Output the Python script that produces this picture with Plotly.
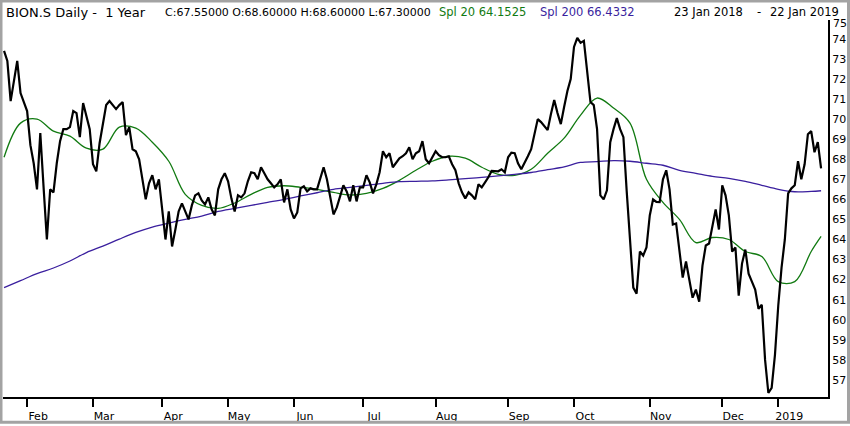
import pandas as pd
import plotly.graph_objects as go

# trading calendar 23 Jan 2018 - 22 Jan 2019 (weekdays minus exchange holidays)
holidays = ['2018-03-30', '2018-04-02', '2018-05-01', '2018-05-10', '2018-05-21', '2018-08-01',
            '2018-12-24', '2018-12-25', '2018-12-26', '2018-12-31', '2019-01-01', '2019-01-02']
days = pd.bdate_range('2018-01-23', '2019-01-22')
days = days[~days.isin(pd.to_datetime(holidays))]
dates = [d.strftime('%Y-%m-%d') for d in days]

# daily close
close = [73.4, 72.9, 70.9, 72.0, 72.9, 71.3, 70.9, 70.4, 68.7, 67.8,
         66.5, 69.3, 66.6, 64.0, 66.5, 66.35, 67.8, 68.9, 69.5, 69.5,
         69.6, 70.4, 70.3, 69.1, 70.8, 70.1, 69.5, 67.75, 67.4, 68.8,
         69.8, 70.7, 70.9, 70.7, 70.5, 70.7, 70.85, 69.2, 69.6, 68.5,
         68.4, 68.0, 67.0, 66.0, 66.8, 67.2, 66.5, 67.0, 65.5, 64.0,
         65.4, 63.65, 64.5, 65.4, 65.8, 65.4, 65.0, 65.7, 66.2, 66.3,
         65.95, 65.75, 66.1, 65.5, 65.2, 66.5, 67.0, 67.3, 66.9, 66.05,
         65.4, 66.2, 66.1, 66.3, 66.9, 67.35, 67.3, 67.0, 67.6, 67.3,
         67.0, 66.8, 66.6, 66.75, 67.0, 65.85, 66.5, 65.5, 65.05, 65.35,
         66.55, 66.65, 66.4, 66.55, 66.5, 66.5, 67.1, 67.6, 67.0, 66.2,
         65.25, 65.6, 66.1, 66.7, 66.4, 65.9, 66.7, 65.9, 66.6, 66.6,
         67.2, 66.85, 66.3, 66.75, 67.35, 68.4, 68.1, 68.3, 67.6, 67.8,
         68.05, 68.15, 68.3, 68.6, 68.0, 68.3, 68.4, 68.9, 68.0, 67.8,
         68.1, 68.4, 68.2, 68.1, 68.1, 68.15, 67.75, 67.45, 66.8, 66.35,
         66.05, 66.35, 66.2, 66.0, 66.75, 66.6, 66.85, 67.1, 67.42, 67.42,
         67.4, 67.5, 67.35, 68.1, 68.33, 68.3, 67.8, 67.5, 67.8, 68.15,
         68.5, 69.3, 70.0, 69.85, 69.65, 69.45, 70.25, 70.95, 70.3, 69.75,
         70.6, 71.4, 72.0, 73.6, 74.05, 73.8, 73.9, 72.2, 70.85, 70.7,
         69.5, 66.2, 66.0, 66.45, 68.85, 69.5, 70.05, 69.5, 69.1, 66.4,
         63.7, 61.6, 61.3, 63.4, 63.2, 63.6, 65.2, 66.0, 65.87, 65.86,
         67.0, 67.45, 66.5, 64.75, 64.8, 63.3, 62.1, 62.9, 62.0, 61.1,
         61.5, 60.9, 62.7, 63.7, 63.8, 64.7, 65.5, 64.5, 66.7, 66.2,
         65.2, 63.4, 63.6, 61.2, 62.8, 63.5, 62.3, 61.9, 61.5, 60.55,
         60.75, 58.0, 56.35, 56.6, 58.25, 60.7, 62.6, 64.0, 66.3, 66.55,
         66.7, 67.9, 67.0, 67.75, 69.25, 69.4, 68.35, 68.85, 67.55]

# moving averages read every 5th trading day (plus the last day)
sma_step = 5
spl20 = [68.1, 69.8, 70.0, 69.4, 69.15, 68.55, 68.5, 69.6, 69.55, 68.85,
         67.9, 66.25, 65.7, 65.55, 65.82, 66.25, 66.6, 66.68, 66.6, 66.5,
         66.35, 66.22, 66.3, 66.55, 66.95, 67.45, 67.9, 68.15, 68.05, 67.6,
         67.25, 67.2, 67.5, 68.3, 69.05, 70.2, 71.05, 70.55, 69.8, 67.0,
         65.85, 65.0, 63.85, 64.1, 64.0, 63.4, 63.15, 61.9, 61.9, 63.4, 64.15]
spl200 = [61.6, 61.95, 62.3, 62.58, 62.93, 63.35, 63.67, 64.02, 64.35, 64.62,
          64.82, 65.0, 65.17, 65.4, 65.55, 65.7, 65.85, 66.0, 66.17, 66.33,
          66.5, 66.6, 66.7, 66.8, 66.88, 66.9, 66.92, 66.97, 67.03, 67.1,
          67.17, 67.25, 67.34, 67.48, 67.62, 67.84, 67.88, 67.93, 67.9, 67.8,
          67.7, 67.45, 67.3, 67.15, 67.05, 66.9, 66.7, 66.5, 66.38, 66.4, 66.43]

month_labels = ['Feb', 'Mar', 'Apr', 'May', 'Jun', 'Jul', 'Aug', 'Sep', 'Oct', 'Nov', 'Dec', '2019']
price_ticks = list(range(57, 75))

sma_idx = list(range(0, len(dates), sma_step))
if sma_idx[-1] != len(dates) - 1:
    sma_idx.append(len(dates) - 1)
sma_dates = [dates[i] for i in sma_idx]

month_starts = pd.Series(days).groupby(days.to_period('M')).first()
month_starts = [d.strftime('%Y-%m-%d') for d in month_starts][1:]

GREEN = '#117a11'
BLUE = '#3a1f9e'
FONT = 'DejaVu Sans'

fig = go.Figure()
fig.add_trace(go.Scatter(x=sma_dates, y=spl20, mode='lines', line=dict(color=GREEN, width=1.3, shape='spline')))
fig.add_trace(go.Scatter(x=sma_dates, y=spl200, mode='lines', line=dict(color=BLUE, width=1.3, shape='spline')))
fig.add_trace(go.Scatter(x=dates, y=close, mode='lines', line=dict(color='black', width=2.2)))

W, H = 850, 426
L, R, T, B = 3, 22, 20, 27
pw, ph = W - L - R, H - T - B


def px(x):
    return (x - L) / pw


def py(y):
    return (H - B - y) / ph


def head(text, x, anchor='left', color='black', size=11):
    fig.add_annotation(text=text, x=px(x), xanchor=anchor, y=py(12), yanchor='middle',
                       xref='paper', yref='paper', showarrow=False,
                       font=dict(family=FONT, size=size, color=color))


head('BION.S Daily -\u00a0\u00a01 Year', 4, size=13)
head('C:67.55000 O:68.60000 H:68.60000 L:67.30000', 163)
head('Spl 20 64.1525', 437, color=GREEN, size=11.5)
head('Spl 200 66.4332', 538, color=BLUE, size=11.5)
head('23 Jan 2018', 672, size=11.5)
head('-', 759, 'center', size=11.5)
head('22 Jan 2019', 841, 'right', size=11.5)
fig.add_annotation(text='75', x=px(831), xanchor='left', y=py(24), yanchor='middle', xref='paper', yref='paper',
                   showarrow=False, font=dict(family=FONT, size=11, color='black'))

# grey frame round the whole picture
fig.add_shape(type='rect', xref='paper', yref='paper', x0=px(1), x1=px(W - 1.5), y0=py(H - 1.5), y1=py(1),
              line=dict(color='#a3a3a3', width=3), fillcolor='rgba(0,0,0,0)')

fig.update_layout(
    width=W, height=H, margin=dict(l=L, r=R, t=T, b=B),
    paper_bgcolor='white', plot_bgcolor='white', showlegend=False,
    font=dict(family=FONT, size=11, color='black'),
    xaxis=dict(type='category', categoryorder='array', categoryarray=dates,
               range=[-0.32, len(dates) + 1.1], tickvals=month_starts, ticktext=month_labels,
               ticks='outside', ticklen=8, tickwidth=1.5, tickcolor='black', ticklabelshift=11,
               showline=True, linecolor='black', linewidth=2, showgrid=False, zeroline=False,
               tickfont=dict(family=FONT, size=11, color='black')),
    yaxis=dict(side='right', range=[56.15, 74.94], tickvals=price_ticks, ticks='',
               showline=True, linecolor='black', linewidth=2, showgrid=False, zeroline=False,
               tickfont=dict(family=FONT, size=11, color='black')),
)

fig.write_html('out.html', config={'displayModeBar': False},
               post_script="document.body.style.margin='0';document.body.style.overflow='hidden';")
